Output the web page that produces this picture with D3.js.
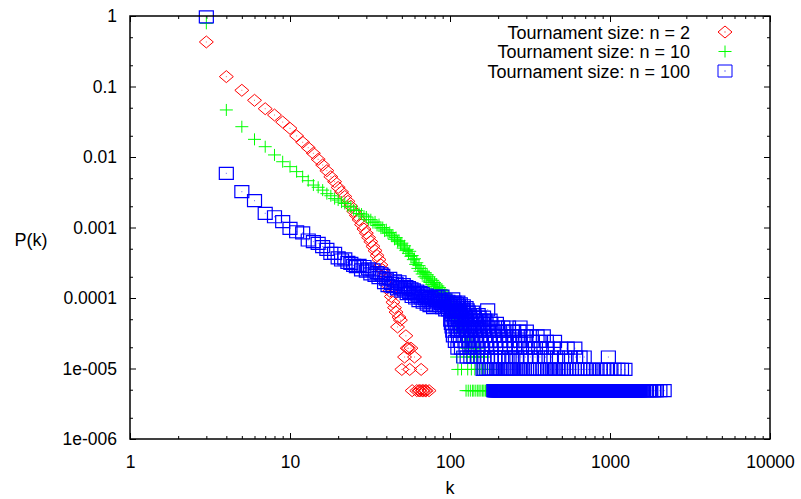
<!DOCTYPE html>
<html>
<head>
<meta charset="utf-8">
<script src="https://cdn.jsdelivr.net/npm/d3@7/dist/d3.min.js"></script>
<style>
  body { margin: 0; background: #fff; }
  text { font-family: "Liberation Sans", Arial, sans-serif; }
</style>
</head>
<body>
<svg id="chart"></svg>
<script>
// ---- data ----
var xTicks = [1, 10, 100, 1000, 10000];
var xTickLabels = ["1", "10", "100", "1000", "10000"];
var yTicks = [1e-6, 1e-5, 1e-4, 1e-3, 1e-2, 1e-1, 1];
var yTickLabels = ["1e-006", "1e-005", "0.0001", "0.001", "0.01", "0.1", "1"];
var seriesNames = ["Tournament size: n = 2", "Tournament size: n = 10", "Tournament size: n = 100"];
var seriesColors = ["#ff0000", "#00ff00", "#0000ff"];

// n = 2, [k, P(k)]
var redData = [
  [3,0.428],[4,0.138],[5,0.0883],[6,0.0637],[7,0.0484],[8,0.0394],[9,0.0313],[10,0.0255],
  [11,0.0199],[12,0.0162],[13,0.01355],[14,0.01128],[15,0.00927],[16,0.0077],[17,0.0064],
  [18,0.00525],[19,0.00447],[20,0.0037],[21,0.0032],[22,0.00275],[23,0.00235],[24,0.002],
  [25,0.0017],[26,0.00148],[27,0.00129],[28,0.0011],[29,0.00095],[30,0.00083],[31,0.00072],
  [32,0.00063],[33,0.00054],[34,0.00047],[35,0.0004],[36,0.00035],[37,0.000295],[38,0.00025],
  [39,0.000215],[40,0.00018],[41,0.00015],[42,0.000125],[43,0.000105],[44,8.7e-5],[45,7.3e-5],
  [46,6.3e-5],[47,3.88e-5],[48,5.34e-5],[49,4.85e-5],[50,9.7e-6],[52,1.455e-5],[53,2.91e-5],
  [54,1.94e-5],[55,1.94e-5],[56,9.7e-6],[57,1.94e-5],[58,4.85e-6],[60,1.455e-5],[62,4.85e-6],
  [64,4.85e-6],[65,4.85e-6],[66,9.7e-6],[67,4.85e-6],[68,4.85e-6],[70,4.85e-6],[71,4.85e-6],
  [74,4.85e-6]
];

// n = 10, [k, P(k)]
var greenData = [
  [3,0.787],[4,0.0465],[5,0.0269],[6,0.0178],[7,0.014],[8,0.0107],[9,0.00857],[10,0.0073],
  [11,0.0062],[12,0.00526],[13,0.00461],[14,0.004],[15,0.00372],[16,0.00339],[17,0.00302],
  [18,0.00282],[19,0.00257],[20,0.00245],[21,0.00229],[22,0.00219],[23,0.002],[24,0.00195],
  [25,0.00178],[26,0.00174],[27,0.00158],[28,0.00155],[29,0.00145],[30,0.00141],[31,0.00129],
  [32,0.00129],[33,0.00117],[34,0.0012],[35,0.00107],[36,0.0011],[37,0.00098],[38,0.001],
  [39,0.00089],[40,0.00093],[41,0.00083],[42,0.00085],[43,0.00076],[44,0.00078],[45,0.00068],
  [46,0.00072],[47,0.00063],[48,0.00065],[49,0.00058],[50,0.0006],[51,0.00051],[52,0.00055],
  [53,0.00047],[54,0.00049],[55,0.00043],[56,0.00046],[57,0.00039],[58,0.0004],[59,0.00035],
  [60,0.00036],[61,0.0003],[62,0.000316],[63,0.000263],[64,0.000288],[65,0.00024],[66,0.000263],
  [67,0.000219],[68,0.00024],[69,0.0002],[70,0.000229],[71,0.000191],[72,0.000214],[73,0.000174],
  [74,0.0002],[75,0.000166],[76,0.000186],[77,0.000155],[78,0.000178],[79,0.000145],[80,0.000166],
  [81,0.000135],[82,0.000158],[83,0.000126],[84,0.000148],[85,0.00012],[86,0.000141],[87,0.000112],
  [88,0.000132],[89,0.000107],[90,0.000126],[91,0.0001],[92,0.000117],[93,9.3e-5],[94,0.000112],
  [95,8.7e-5],[96,0.000105],[97,8.1e-5],[98,9.8e-5],[99,7.6e-5],[100,8.9e-5],
  [101,7.76e-5],[102,6.31e-5],[103,7.28e-5],[104,5.82e-5],[105,6.79e-5],[106,5.34e-5],[107,6.31e-5],
  [108,4.85e-5],[109,5.82e-5],[110,1.455e-5],[111,4.37e-5],[112,9.7e-6],[113,3.88e-5],[114,4.37e-5],
  [115,3.4e-5],[116,4.85e-5],[117,2.91e-5],[118,9.7e-6],[119,3.88e-5],[120,2.43e-5],[122,3.4e-5],
  [124,2.91e-5],[125,1.94e-5],[126,4.85e-6],[127,2.43e-5],[128,1.455e-5],[129,9.7e-6],[130,4.85e-6],
  [131,2.91e-5],[133,1.94e-5],[134,4.85e-6],[135,1.455e-5],[136,9.7e-6],[137,2.43e-5],[138,4.85e-6],
  [140,1.455e-5],[141,4.85e-6],[142,1.94e-5],[143,9.7e-6],[145,4.85e-6],[146,1.455e-5],[148,9.7e-6],
  [149,4.85e-6],[150,1.94e-5],[152,4.85e-6],[153,9.7e-6],[155,1.455e-5],[156,4.85e-6],[158,9.7e-6],
  [160,4.85e-6],[162,1.455e-5],[163,4.85e-6],[165,9.7e-6],[167,4.85e-6],[170,4.85e-6],[172,9.7e-6],
  [175,4.85e-6],[178,4.85e-6],[182,4.85e-6],[186,9.7e-6],[190,4.85e-6],[195,4.85e-6],[200,4.85e-6],
  [206,4.85e-6],[212,4.85e-6],[220,4.85e-6],[228,4.85e-6],[236,4.85e-6],[245,4.85e-6]
];

// n = 100, [k, P(k)] for the head of the curve
var blueData = [
  [3,0.97],[4,0.00587],[5,0.00322],[6,0.0024],[7,0.00159],[8,0.00142],[9,0.00121],[10,0.00097],
  [11,0.00087],[12,0.00084],[13,0.000665],[14,0.00063],[15,0.000597],[16,0.000535],[17,0.00049],
  [18,0.00043],[19,0.00043],[20,0.00037],[21,0.000346],[22,0.00036],[23,0.00032],[24,0.00031],
  [25,0.00029],[26,0.000278],[27,0.00029],[28,0.00025],[29,0.00028],[30,0.00024],[31,0.00026],
  [32,0.00022],[33,0.00025],[34,0.00021],[35,0.00023],[36,0.000195],[37,0.00022],[38,0.00021],
  [39,0.000165],[40,0.000185],[41,0.00015],[42,0.00019],[43,0.00016],[44,0.000145],[45,0.000175],
  [46,0.000162],[47,0.000135],[48,0.00017],[49,0.00014],[50,0.000125],[51,0.000155],[52,0.00013],
  [53,0.000145],[54,0.000115],[55,0.00014],[56,0.00012],[57,0.000135],[58,0.000105],[59,0.00013],
  [60,0.000115],[61,0.0001],[62,0.000125],[63,0.00011],[64,9.2e-5],[65,0.00012],[66,0.0001],
  [67,0.000115],[68,8.7e-5],[69,0.000105],[70,9.7e-5],[71,0.00011],[72,8.2e-5],[73,0.0001],
  [74,9.2e-5],[75,7.8e-5],[76,0.000102],[77,8.7e-5],[78,9.7e-5],[79,7.3e-5],[80,0.000105],
  [81,9.4e-5],[82,7.8e-5],[83,0.000106],[84,9e-5],[85,0.0001],[86,7.8e-5],[87,9.4e-5],[88,8.4e-5],
  [89,0.000106],[90,7.3e-5],[91,9e-5],[92,7.8e-5],[93,9.4e-5],[94,6.8e-5],[95,8.4e-5],[96,7.8e-5],
  [97,9e-5],[98,6.8e-5],[99,7.8e-5],[100,8.4e-5]
];

// n = 100 tail: P(k) sits on a few discrete levels; k values found on each level
var blueTailLevels = [4.85e-6, 9.7e-6, 1.455e-5, 1.94e-5, 2.43e-5, 2.91e-5, 3.4e-5, 3.88e-5,
  4.37e-5, 4.85e-5, 5.34e-5, 5.82e-5, 6.31e-5, 6.79e-5, 7.28e-5, 7.76e-5, 8.25e-5, 8.73e-5, 9.7e-5];
var blueTailK = [
  [188,189,191,192,194,195,197,198,200,201,203,204,206,207,209,210,212,213,215,216,218,219,221,223,
   224,226,228,229,231,233,234,236,237,239,241,243,244,246,248,250,251,253,255,257,258,260,262,264,
   266,268,270,272,274,276,278,280,282,284,286,288,290,293,295,297,299,301,303,306,308,310,312,315,
   317,319,322,324,327,329,332,334,337,339,342,344,347,349,352,355,357,360,363,365,368,371,374,377,
   380,382,385,388,391,394,397,400,403,406,410,413,416,419,422,426,429,432,435,439,442,446,449,452,
   456,459,463,467,470,474,477,481,485,489,492,496,500,504,508,512,515,519,523,527,531,536,540,544,
   548,552,556,561,565,569,574,578,583,587,592,596,601,606,610,615,620,624,629,634,639,644,649,654,
   659,664,669,674,679,685,690,695,700,706,711,717,722,728,733,739,744,750,756,762,767,773,779,785,
   791,797,803,809,815,822,828,834,840,847,853,860,866,873,879,886,893,900,906,913,920,927,934,941,
   949,956,963,971,978,985,993,1000,1008,1016,1024,1031,1039,1047,1055,1063,1072,1080,1088,1096,
   1105,1113,1122,1131,1139,1148,1157,1166,1174,1183,1192,1202,1211,1220,1229,1239,1248,1258,1267,
   1277,1287,1296,1306,1316,1326,1337,1347,1357,1368,1378,1389,1399,1410,1421,1432,1442,1453,1465,
   1476,1487,1498,1510,1521,1533,1545,1580,1620,1660,1690,1740,1770,1800,1870,1910,1950,2050,2180],
  [161,165,170,176,180,185,190,196,203,208,215,222,228,236,243,250,258,266,275,283,292,301,312,322,
   333,345,356,368,381,395,410,425,441,457,474,492,512,531,552,575,598,620,647,672,700,733,760,790,
   830,870,905,950,1000,1060,1120,1180,1240],
  [122,128,135,141,148,156,163,171,180,190,199,210,222,234,247,262,278,296,318,340,365,395,430,470,
   520,560,610,650,690,977],
  [112,118,126,133,141,150,160,170,181,193,206,220,236,253,272,293,316,342,372,405,445,490,540,603],
  [108,116,124,131,139,147,157,168,178,191,205,219,236,254,275,298,326,360,400,450],
  [105,113,121,129,137,146,155,165,176,188,202,217,233,252,272,296,322,350,383],
  [104,111,118,126,134,143,152,162,174,186,200,215,232,250,270,300],
  [103,109,116,123,131,140,150,160,171,183,198,214,232,274],
  [102,108,114,121,128,137,146,156,168,180,195],
  [101,107,113,119,127,135,144,154,165,178],
  [106,112,118,125,133,142,152,162],
  [104,110,117,124,132,141,150],
  [103,109,115,122,130,138],
  [102,108,114,120,128,172],
  [105,111,119,126],
  [101,107,113,121],
  [103,110,116],
  [106,112],
  [104]
];

// ---- drawing ----
var svgWidth = 801, svgHeight = 499;
var margin = { top: 16, right: 31, bottom: 60, left: 130 };
var width = svgWidth - margin.left - margin.right;
var height = svgHeight - margin.top - margin.bottom;

var svg = d3.select("#chart").attr("width", svgWidth).attr("height", svgHeight);
svg.append("rect").attr("width", svgWidth).attr("height", svgHeight).attr("fill", "white");

var g = svg.append("g").attr("transform", "translate(" + margin.left + "," + margin.top + ")");

var x = d3.scaleLog().domain([1, 10000]).range([0, width]);
var y = d3.scaleLog().domain([1e-6, 1]).range([height, 0]);

var xMinor = [], yMinor = [];
xTicks.slice(0, -1).forEach(function (t) { for (var m = 2; m < 10; m++) xMinor.push(t * m); });
yTicks.slice(0, -1).forEach(function (t) { yMinor.push(t * 2, t * 5); });

function styleAxis(sel) {
  sel.select(".domain").remove();
  sel.selectAll("line").attr("stroke", "#000").attr("stroke-width", 1);
  sel.selectAll("text").attr("font-size", "17.5px").attr("fill", "#000")
    .attr("font-family", '"Liberation Sans", Arial, sans-serif');
}

// labelled axes (ticks point inward)
g.append("g").attr("transform", "translate(0," + height + ")")
  .call(d3.axisBottom(x).tickValues(xTicks).tickSize(-6).tickPadding(17)
    .tickFormat(function (d, i) { return xTickLabels[i]; }))
  .call(styleAxis);
g.append("g")
  .call(d3.axisLeft(y).tickValues(yTicks).tickSize(-6).tickPadding(13)
    .tickFormat(function (d, i) { return yTickLabels[i]; }))
  .call(styleAxis);

// mirrored + minor ticks
g.append("g").call(d3.axisTop(x).tickValues(xTicks).tickSize(-6).tickFormat("")).call(styleAxis);
g.append("g").attr("transform", "translate(" + width + ",0)")
  .call(d3.axisRight(y).tickValues(yTicks).tickSize(-6).tickFormat("")).call(styleAxis);
g.append("g").attr("transform", "translate(0," + height + ")")
  .call(d3.axisBottom(x).tickValues(xMinor).tickSize(-3).tickFormat("")).call(styleAxis);
g.append("g").call(d3.axisTop(x).tickValues(xMinor).tickSize(-3).tickFormat("")).call(styleAxis);
g.append("g").call(d3.axisLeft(y).tickValues(yMinor).tickSize(-3).tickFormat("")).call(styleAxis);
g.append("g").attr("transform", "translate(" + width + ",0)")
  .call(d3.axisRight(y).tickValues(yMinor).tickSize(-3).tickFormat("")).call(styleAxis);

// point shapes
var shapes = [
  "M0,-6L7,0L0,6L-7,0Z",
  "M-6.5,0H6.5M0,-6V6",
  "M-7,-6H7V6H-7Z"
];
var strokeWidths = [1, 1, 1.2];

var blueTail = [];
blueTailLevels.forEach(function (p, i) {
  blueTailK[i].forEach(function (k) { blueTail.push([k, p]); });
});

var allSeries = [redData, greenData, blueData.concat(blueTail)];

var plot = g.append("g");
allSeries.forEach(function (data, si) {
  var s = plot.append("g");
  s.selectAll("path")
    .data(data)
    .join("path")
    .attr("transform", function (d) { return "translate(" + x(d[0]) + "," + y(d[1]) + ")"; })
    .attr("d", shapes[si])
    .attr("fill", "none")
    .attr("stroke", seriesColors[si])
    .attr("stroke-width", strokeWidths[si]);
  if (si !== 1) {
    s.selectAll("rect")
      .data(data)
      .join("rect")
      .attr("x", function (d) { return x(d[0]) - 0.5; })
      .attr("y", function (d) { return y(d[1]) - 0.5; })
      .attr("width", 1).attr("height", 1)
      .attr("fill", seriesColors[si]).attr("opacity", 0.6);
  }
});

// frame
g.append("rect").attr("width", width).attr("height", height)
  .attr("fill", "none").attr("stroke", "#000").attr("stroke-width", 1.5);

// legend
var legend = g.append("g").attr("transform", "translate(" + (690 - margin.left) + "," + (32 - margin.top) + ")");
seriesNames.forEach(function (name, i) {
  legend.append("text")
    .attr("x", 0).attr("y", i * 19.5 + 6.5)
    .attr("text-anchor", "end")
    .attr("font-size", "18px")
    .attr("fill", "#000")
    .text(name);
  legend.append("path")
    .attr("transform", "translate(35," + (i * 19.5) + ")")
    .attr("d", shapes[i])
    .attr("fill", "none")
    .attr("stroke", seriesColors[i]);
  if (i !== 1) {
    legend.append("rect").attr("x", 34.5).attr("y", i * 19.5 - 0.5)
      .attr("width", 1).attr("height", 1).attr("fill", seriesColors[i]);
  }
});

// axis titles
svg.append("text").attr("x", 450).attr("y", 494).attr("text-anchor", "middle")
  .attr("font-size", "18px").attr("fill", "#000").text("k");
svg.append("text").attr("x", 31).attr("y", 246).attr("text-anchor", "middle")
  .attr("font-size", "18px").attr("fill", "#000").text("P(k)");
</script>
</body>
</html>
